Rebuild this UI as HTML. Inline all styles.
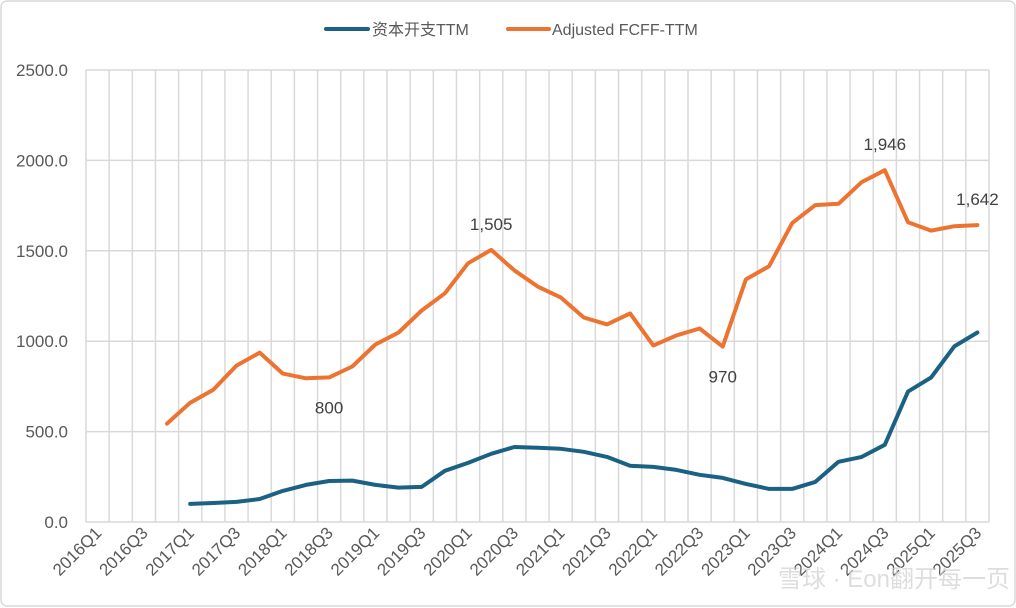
<!DOCTYPE html>
<html><head><meta charset="utf-8"><style>
body{margin:0;background:#fff;}
svg{display:block;font-family:"Liberation Sans","Noto Sans CJK SC",sans-serif;}
</style></head><body>
<svg id="chart" width="1016" height="608">
<rect x="1" y="1" width="1014" height="605" rx="6" fill="#fff" stroke="#d9d9d9" stroke-width="1.5"/>
<g id="grid"></g>
<g id="axes"></g>
<g id="series"></g>
<g id="legend">
  <line x1="326" y1="29" x2="368" y2="29" stroke="#1a6183" stroke-width="4" stroke-linecap="round"/>
  <text x="372" y="35" font-size="16" fill="#595959">资本开支TTM</text>
  <line x1="508" y1="29" x2="549" y2="29" stroke="#ed7331" stroke-width="4" stroke-linecap="round"/>
  <text x="552" y="35" font-size="16" fill="#595959">Adjusted FCFF-TTM</text>
</g>
<text x="1010" y="587" text-anchor="end" font-size="24" fill="#d0d0d0" opacity="0.7">雪球 · Eon翻开每一页</text>
</svg>
<script>
const categories=[];for(let y=2016;y<=2025;y++)for(let q=1;q<=4;q++)categories.push(y+"Q"+q);
categories.splice(39);
const yTicks=[0,500,1000,1500,2000,2500];
const yTickLabels=["0.0","500.0","1000.0","1500.0","2000.0","2500.0"];
const capex=[null,null,null,null,100,105,111,127,172,205,227,229,205,190,194,283,327,377,415,411,405,388,360,311,305,288,261,244,211,183,183,222,333,360,427,721,799,971,1048];
const fcff=[null,null,null,544,660,732,865,937,821,795,800,860,982,1048,1170,1265,1431,1505,1392,1303,1242,1131,1093,1154,976,1032,1070,970,1342,1414,1653,1753,1760,1880,1946,1658,1612,1636,1642];
const fcffLabels=[{i:10,t:"800",pos:"below"},{i:17,t:"1,505",pos:"above"},{i:27,t:"970",pos:"below"},{i:34,t:"1,946",pos:"above"},{i:38,t:"1,642",pos:"above"}];

const NS="http://www.w3.org/2000/svg";
const L=86,R=989,T=70,B=522,YMAX=2500;
const bw=(R-L)/categories.length;
const xs=i=>L+bw*(i+0.5);
const ys=v=>B-(v/YMAX)*(B-T);
function mk(tag,attrs,parent){const e=document.createElementNS(NS,tag);for(const k in attrs)e.setAttribute(k,attrs[k]);parent.appendChild(e);return e;}
const grid=document.getElementById('grid'),axes=document.getElementById('axes'),series=document.getElementById('series');
yTicks.forEach((v,k)=>{
  const ln=mk('line',{x1:L,x2:R,y1:ys(v),y2:ys(v),stroke:'#d9d9d9','stroke-width':1.5},grid);
  
  
  const t=mk('text',{x:68,y:ys(v)+6,'text-anchor':'end','font-size':17,fill:'#595959'},axes);
  t.textContent=yTickLabels[k];
  
  
});
for(let i=0;i<=categories.length;i++){
  const x=L+bw*i;
  const ln=mk('line',{x1:x,x2:x,y1:T,y2:B,stroke:'#d9d9d9','stroke-width':1.5},grid);
  
  
}
categories.forEach((c,i)=>{
  if(i%2) return;
  const x=xs(i)+5,y=534;
  const t=mk('text',{x:x,y:y,'text-anchor':'end','font-size':17,fill:'#595959',transform:`rotate(-45 ${x} ${y})`},axes);
  t.textContent=c;
  
  
});
function drawLine(arr,color,name){
  let d='';arr.forEach((v,i)=>{if(v==null)return;d+=(d?'L':'M')+xs(i).toFixed(1)+','+ys(v).toFixed(1);});
  const p=mk('path',{d:d,fill:'none',stroke:color,'stroke-width':4,'stroke-linejoin':'round','stroke-linecap':'round'},series);
  
  
}
drawLine(capex,'#1a6183','capex-line');
drawLine(fcff,'#ed7331','fcff-line');
fcffLabels.forEach(o=>{
  const y=o.pos==='above'?ys(fcff[o.i])-20:ys(fcff[o.i])+36;
  const t=mk('text',{x:xs(o.i),y:y,'text-anchor':'middle','font-size':17,fill:'#404040'},series);
  t.textContent=o.t;
  
  
});
</script>
</body></html>
